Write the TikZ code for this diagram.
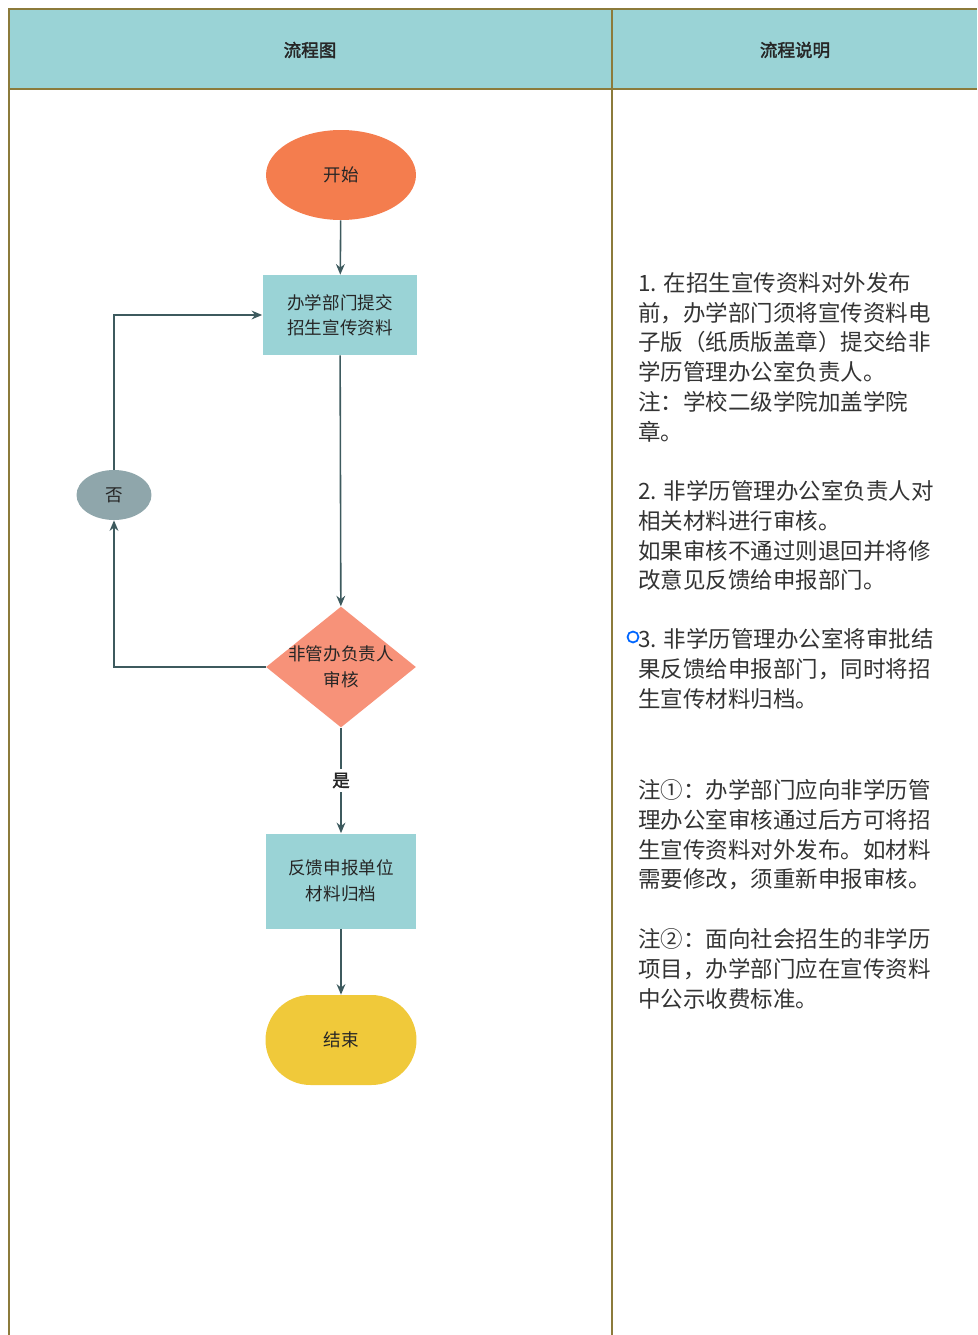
\documentclass[tikz,border=0pt]{standalone}
\usepackage{fontspec}
\setmainfont{Noto Sans CJK SC}[AutoFakeBold=2]
\usetikzlibrary{shapes.geometric, arrows.meta, positioning}

\definecolor{framecol}{HTML}{8C7B3B}
\definecolor{headcol}{HTML}{9AD3D6}
\definecolor{startcol}{HTML}{F47D4E}
\definecolor{boxcol}{HTML}{9AD3D6}
\definecolor{decidecol}{HTML}{F79279}
\definecolor{backcol}{HTML}{8FA6AB}
\definecolor{endcol}{HTML}{F0C93A}
\definecolor{linecol}{HTML}{3D5A5E}
\definecolor{notecol}{HTML}{333333}

\begin{document}
\begin{tikzpicture}[x=0.02cm,y=-0.02cm,
  every node/.style={font=\fontsize{10}{14.5}\selectfont, text=black!85, align=center},
  procbox/.style={rectangle, fill=boxcol, minimum width=3.1cm, minimum height=1.6cm},
  startend/.style={ellipse, fill=startcol, minimum width=3cm, minimum height=1.8cm},
  stopnode/.style={rectangle, rounded corners=0.9cm, fill=endcol, minimum width=3.02cm, minimum height=1.8cm},
  decide/.style={diamond, fill=decidecol, shape aspect=1.24, minimum width=3cm, minimum height=2.42cm, inner sep=-0.2cm},
  backnode/.style={ellipse, fill=backcol, minimum width=1.5cm, minimum height=1cm},
  flowline/.style={draw=linecol, line width=0.9pt, -{Stealth[length=6pt,width=5pt]}},
  note/.style={anchor=north west, align=left, text=notecol, font=\fontsize{12.8}{17}\selectfont}]
\useasboundingbox (0,0) rectangle (977,1335);

% table frame
\fill[headcol] (9,9) rectangle (977,89);
\draw[framecol, line width=0.8pt] (9,1335) -- (9,9) -- (977,9);
\draw[framecol, line width=0.8pt] (9,89) -- (977,89);
\draw[framecol, line width=0.8pt] (612,9) -- (612,1335);
\node[font=\fontsize{10}{12}\selectfont\bfseries] (headL) at (310,50) {流程图};
\node[font=\fontsize{10}{12}\selectfont\bfseries] (headR) at (795,50) {流程说明};

% flow chart
\node[startend] (start) at (341,175) {开始};
\node[procbox] (submit) at (340,315) {办学部门提交\\招生宣传资料};
\node[decide] (check) at (341,667) {非管办负责人\\审核};
\node[backnode] (no) at (114,495) {否};
\node[procbox, minimum width=3.02cm, minimum height=1.9cm] (feedback) at (341,881) {反馈申报单位\\材料归档};
\node[stopnode] (stop) at (341,1040) {结束};

\draw[flowline] (start) -- (submit);
\draw[flowline] (submit) -- (check);
\draw[flowline] (check.west) -| (no.south);
\draw[flowline] (no.north) |- (submit.west);
\draw[flowline] (check) -- node[fill=white, inner sep=2pt, font=\fontsize{10}{12}\selectfont\bfseries] (yes) {是} (feedback);
\draw[flowline] (feedback) -- (stop);

% notes
\node[note] (step1) at (632,266) {1. 在招生宣传资料对外发布\\前，办学部门须将宣传资料电\\子版（纸质版盖章）提交给非\\学历管理办公室负责人。\\注：学校二级学院加盖学院\\章。};
\node[note] (step2) at (632,474) {2. 非学历管理办公室负责人对\\相关材料进行审核。\\如果审核不通过则退回并将修\\改意见反馈给申报部门。};
\node[note] (step3) at (632,622) {3. 非学历管理办公室将审批结\\果反馈给申报部门，同时将招\\生宣传材料归档。};
\node[note] (note1) at (632,773) {注①：办学部门应向非学历管\\理办公室审核通过后方可将招\\生宣传资料对外发布。如材料\\需要修改，须重新申报审核。};
\node[note] (note2) at (632,922) {注②：面向社会招生的非学历\\项目，办学部门应在宣传资料\\中公示收费标准。};
\draw[blue!60!cyan, line width=1pt] (633,637) circle (0.11cm);
\end{tikzpicture}
\end{document}
